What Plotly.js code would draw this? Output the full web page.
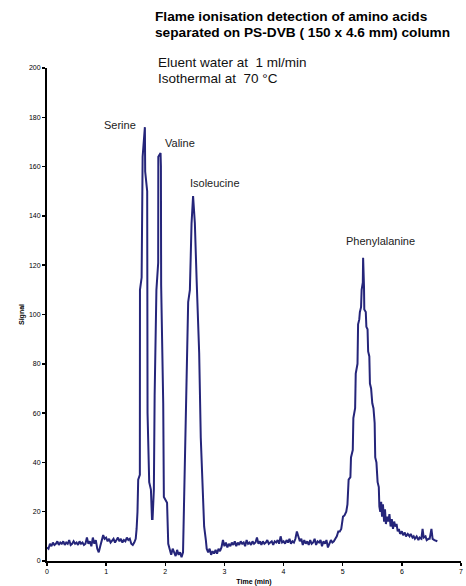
<!DOCTYPE html>
<html>
<head>
<meta charset="utf-8">
<script src="https://cdn.plot.ly/plotly-3.0.1.min.js"></script>
<style>html,body{margin:0;padding:0;background:#fff;}#chart{width:466px;height:586px;}</style>
</head>
<body>
<div id="chart"></div>
<script>
// Retention time (min)
var timeMin = [
  0.000,0.025,0.050,0.075,0.100,0.125,0.150,0.175,0.200,0.225,0.250,0.275,0.300,0.325,0.350,0.375,0.400,0.425,0.450,0.475,
  0.500,0.525,0.550,0.575,0.600,0.625,0.650,0.675,0.700,0.725,0.750,0.775,0.800,0.825,0.850,0.875,0.900,0.925,0.950,0.975,
  1.000,1.025,1.050,1.075,1.100,1.125,1.150,1.175,1.200,1.225,1.250,1.275,1.300,1.325,1.350,1.375,1.400,1.425,1.450,1.475,1.500,
  1.515,1.530,1.542,1.570,1.572,1.600,1.617,1.640,1.655,1.660,1.694,1.700,1.728,1.757,1.769,1.775,1.785,1.800,1.807,
  1.820,1.850,1.880,1.882,1.920,1.926,1.930,1.965,1.976,2.030,2.050,
  2.075,2.100,2.125,2.150,2.175,2.200,2.225,2.250,2.275,2.300,
  2.306,2.331,2.360,2.387,2.416,2.444,2.470,2.500,2.530,2.573,2.600,2.630,2.657,2.686,
  2.700,2.725,2.750,2.775,2.800,2.825,2.850,2.875,2.900,2.925,2.950,2.975,
  3.000,3.025,3.050,3.075,3.100,3.125,3.150,3.175,3.200,3.225,3.250,3.275,3.300,3.325,3.350,3.375,3.400,3.425,3.450,3.475,
  3.500,3.525,3.550,3.575,3.600,3.625,3.650,3.675,3.700,3.725,3.750,3.775,3.800,3.825,3.850,3.875,3.900,3.925,3.950,3.975,
  4.000,4.025,4.050,4.075,4.100,4.125,4.150,4.175,4.200,4.225,4.250,4.275,4.300,4.325,4.350,4.375,4.400,4.425,4.450,4.475,
  4.500,4.525,4.550,4.575,4.600,4.625,4.650,4.675,4.700,4.725,4.750,4.775,4.800,4.825,4.850,4.875,4.900,4.925,4.950,
  4.975,5.005,5.030,5.060,5.080,5.100,5.130,5.140,5.170,5.180,5.210,5.220,5.250,5.260,5.280,5.290,5.310,5.320,5.340,5.345,
  5.360,5.365,5.390,5.400,5.420,5.430,5.450,5.460,5.480,5.500,5.520,5.540,5.550,5.570,5.590,5.610,5.620,5.635,5.650,5.665,
  5.680,5.700,5.715,5.730,5.750,5.770,5.790,5.810,5.830,5.850,5.870,5.890,5.910,5.930,5.950,5.970,6.000,6.020,6.050,6.070,
  6.100,6.130,6.150,6.180,6.200,6.220,6.250,6.280,6.300,6.330,6.350,6.370,6.400,6.420,6.450,6.470,6.500,6.520,6.550,6.580,6.600
];
// Detector signal
var signal = [
  5.5,5.0,7.0,6.0,7.5,6.5,7.0,8.0,6.5,7.5,7.0,8.0,6.5,7.5,7.0,8.5,6.5,7.0,8.0,7.0,
  7.5,6.5,8.0,7.0,7.5,6.5,7.0,9.5,7.0,8.0,6.0,9.5,7.0,8.5,5.0,3.5,6.0,8.0,10.5,9.0,
  9.5,8.0,9.0,7.5,8.5,9.0,7.5,8.5,9.5,8.0,9.0,7.5,8.5,8.0,9.5,8.5,9.0,7.0,6.5,7.5,9.0,
  13,20,33,35,110,115,164,170,176,158,150,60,32,29,18,17,17,29,29,
  67,110,121,164,165.5,160,112,64,26,23.6,7,
  4.0,2.5,5.0,3.0,2.0,4.5,2.5,3.5,1.5,3.5,
  11,30,67,105,110,137,148,137,114,84.5,50,30,14,8.5,
  5.0,3.5,5.0,2.5,4.0,3.0,4.5,3.0,5.0,4.0,5.5,8.5,
  6.0,7.5,5.5,7.0,6.0,7.5,6.5,8.0,6.0,7.5,6.5,8.0,7.0,7.5,6.0,8.5,7.0,7.5,6.5,8.0,
  7.0,7.5,9.5,7.0,8.0,6.5,8.0,7.0,7.5,8.5,7.0,7.5,8.0,6.5,8.0,7.5,8.5,7.0,10.0,7.5,
  8.0,7.0,8.5,7.5,9.0,7.0,8.0,7.5,9.0,12.0,10.0,8.0,9.0,6.5,8.5,7.0,8.0,6.5,8.5,7.0,
  7.5,9.0,6.5,8.0,7.5,8.5,6.0,8.0,7.0,8.5,5.5,7.0,8.5,7.5,8.0,9.0,10.0,12.0,12.0,
  13,18,18.5,20,23,33,34,42,45,58,62,76,80,96,98,101,103,110,113,123,
  111,102,101,95,94,85,83,72,70,64,62,56,42,40,32,30,22,20,24,18,
  23,16,21,15,18,16,19,14,17,13,16,14,15,12,13,11,12,10.5,11.5,10,
  11,10,11,9.5,10,9,10,8.5,9.5,9,13,9.5,10,8.5,9,9,13,9,8.5,8,8
];
// Peak labels
var peakNames = ["Serine", "Valine", "Isoleucine", "Phenylalanine"];
var peakLabelX = [1.234, 2.257, 2.84, 5.64];
var peakLabelY = [176.9, 169.6, 153.3, 129.8];
// Title and condition lines
var titleLines = ["Flame ionisation detection of amino acids", "separated on PS-DVB ( 150 x 4.6 mm) column"];
var conditionLines = ["Eluent water at  1 ml/min", "Isothermal at  70 °C"];

var FONT = "Liberation Sans, Arial, Helvetica, sans-serif";
// pixel -> paper helpers (plot area: x 47..461, y 68..561)
function px(xp) { return (xp - 47) / 414; }
function py(yp) { return (561 - yp) / 493; }

var annotations = peakNames.map(function (n, i) {
  return {x: peakLabelX[i], y: peakLabelY[i], xref: "x", yref: "y", text: n,
          showarrow: false, xanchor: "center", yanchor: "middle",
          font: {family: FONT, size: 11, color: "#222"}};
});
var titleY = [16.5, 32.5];
titleLines.forEach(function (t, i) {
  annotations.push({xref: "paper", yref: "paper", x: px(153), y: py(titleY[i]),
    xanchor: "left", yanchor: "middle", showarrow: false, text: "<b>" + t + "</b>",
    font: {family: FONT, size: 13.7, color: "#000"}});
});
var condY = [62, 78];
conditionLines.forEach(function (t, i) {
  annotations.push({xref: "paper", yref: "paper", x: px(156), y: py(condY[i]),
    xanchor: "left", yanchor: "middle", showarrow: false, text: t,
    font: {family: FONT, size: 13.5, color: "#111"}});
});

var trace = {
  x: timeMin, y: signal, type: "scatter", mode: "lines",
  line: {color: "#25257a", width: 2}, hoverinfo: "skip"
};

var layout = {
  width: 466, height: 586,
  margin: {l: 47, r: 5, t: 68, b: 25},
  paper_bgcolor: "#fff", plot_bgcolor: "#fff",
  showlegend: false,
  xaxis: {
    range: [0, 7], dtick: 1, tick0: 0, showgrid: false, zeroline: false,
    showline: true, linecolor: "#000", linewidth: 1.5,
    ticks: "outside", ticklen: 3, tickwidth: 1.5, tickcolor: "#000",
    tickfont: {family: FONT, size: 7, color: "#000"},
    title: {text: "<b>Time (min)</b>", font: {family: FONT, size: 7, color: "#000"}, standoff: 5},
    fixedrange: true
  },
  yaxis: {
    range: [0, 200], dtick: 20, tick0: 0, showgrid: false, zeroline: false,
    showline: true, linecolor: "#000", linewidth: 2,
    ticks: "outside", ticklen: 3, tickwidth: 1.5, tickcolor: "#000",
    tickfont: {family: FONT, size: 7, color: "#000"},
    title: {text: "<b>Signal</b>", font: {family: FONT, size: 7, color: "#000"}, standoff: 3},
    fixedrange: true
  },
  annotations: annotations
};

Plotly.newPlot("chart", [trace], layout, {displayModeBar: false, staticPlot: true});
</script>
</body>
</html>
